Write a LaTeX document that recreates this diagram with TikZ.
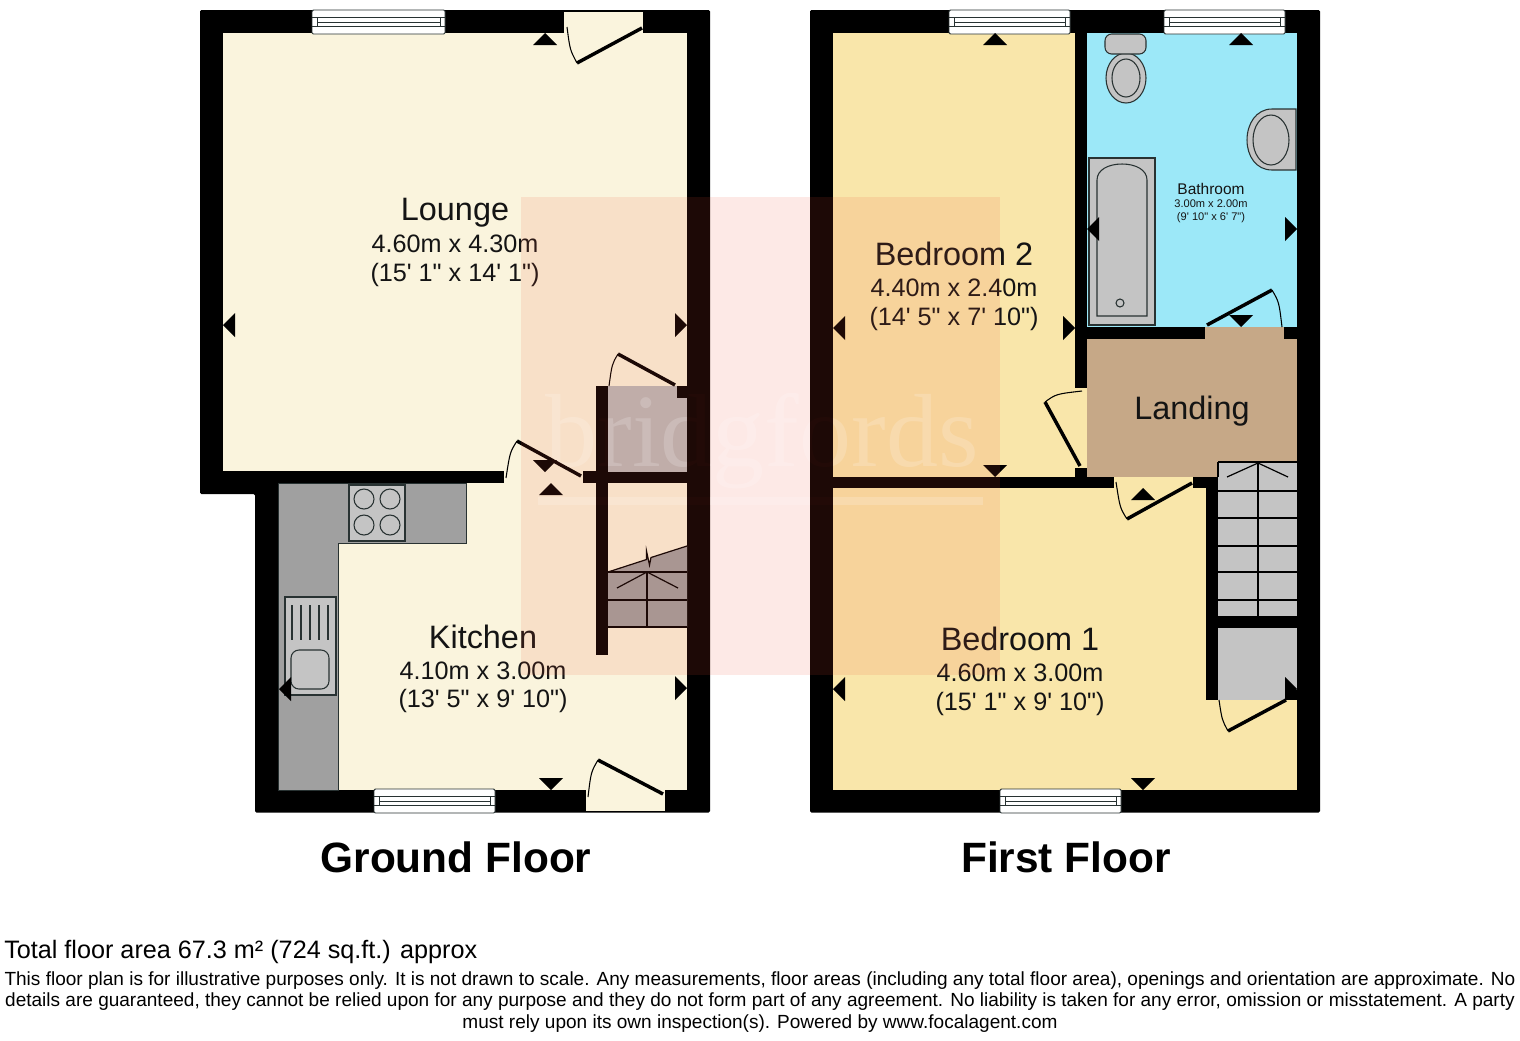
\documentclass[tikz,border=0pt]{standalone}
\usepackage{fontspec}
\newfontfamily\planfont{Liberation Sans}
\newfontfamily\markfont{Liberation Serif}
\definecolor{creamfloor}{RGB}{250,244,221}
\definecolor{yellowfloor}{RGB}{249,230,170}
\definecolor{bathfloor}{RGB}{156,232,248}
\definecolor{landfloor}{RGB}{198,168,135}
\definecolor{worktop}{RGB}{160,160,160}
\definecolor{fitting}{RGB}{196,196,196}
\definecolor{planline}{RGB}{40,50,50}
\definecolor{stampcol}{RGB}{240,80,50}
\tikzset{
  roomname/.style={font=\planfont\fontsize{24.3}{28}\selectfont,anchor=base,text=black!92},
  roomsize/.style={font=\planfont\fontsize{18.9}{22}\selectfont,anchor=base,text=black!92},
  smallname/.style={font=\planfont\fontsize{11.6}{14}\selectfont,anchor=base,text=black!92},
  smallsize/.style={font=\planfont\fontsize{8.3}{10}\selectfont,anchor=base,text=black!92},
  floorname/.style={font=\planfont\bfseries\fontsize{31.8}{36}\selectfont,anchor=base},
  notetext/.style={font=\planfont\fontsize{14.27}{18}\selectfont,anchor=base},
  doorleaf/.style={line width=2.6pt,line cap=butt},
  doorarc/.style={line width=.8pt},
  fixture/.style={draw=planline,line width=.8pt,fill=fitting},
  stairline/.style={draw=black,line width=.9pt},
}
\begin{document}
\begin{tikzpicture}[x=.75pt,y=-.75pt]
\useasboundingbox (0,0) rectangle (1520,1040);
\fill[white] (0,0) rectangle (1520,1040);
% Draw outer walls
\fill[black,rounded corners=1] (200,10) -- (710,10) -- (710,812.5) -- (255,812.5) -- (255,494) -- (200,494) -- cycle;
\fill[black,rounded corners=1] (810,10) rectangle (1320,812.5);
% Draw floors
\fill[creamfloor] (223,33) rectangle (687,471);
\fill[creamfloor] (278,483) rectangle (687,790);
\fill[creamfloor] (504,470) rectangle (583,484);
\fill[yellowfloor] (833,33) rectangle (1075,477);
\fill[yellowfloor] (833,488) rectangle (1297,790);
\fill[yellowfloor] (1114,477) rectangle (1193,489);
\fill[bathfloor] (1087,33) rectangle (1297,327);
\fill[landfloor] (1087,339) rectangle (1297,477);
\fill[yellowfloor] (1074,388) rectangle (1087,468);
% Draw openings
\fill[creamfloor] (564,12) rectangle (643,33);
\fill[creamfloor] (586,789) rectangle (665,811);
\fill[landfloor] (1205,327) rectangle (1284,339);
% Draw kitchen units
\draw[planline,line width=.6pt,fill=worktop] (278,483) -- (466,483) -- (466,543) -- (338,543) -- (338,790) -- (278,790) -- cycle;
\draw[fixture] (349,485) rectangle (405,541);
\foreach \x/\y in {364/499,390/499,364/525,390/525}
  \draw[fixture] (\x,\y) circle (10);
\draw[fixture] (285,597) rectangle (336,695);
\foreach \x in {292,301,310,319,328}
  \draw[planline,line width=1pt] (\x,605) -- (\x,640);
\draw[fixture,rounded corners=6] (291,650) rectangle (329,689);
% Draw ground floor stairs and cupboard
\fill[fitting!95!black] (608,386) rectangle (687,472);
\fill[worktop] (608,572) -- (646.5,559.5) -- (646.5,551) -- (649.5,565) -- (651,557.5) -- (687,546) -- (687,627) -- (608,627) -- cycle;
\draw[stairline] (608,572) -- (646.5,559.5) -- (646.5,551) -- (649.5,565) -- (651,557.5) -- (687,546);
\foreach \y in {572,600,627}
  \draw[stairline] (608,\y) -- (687,\y);
\draw[stairline] (647,572) -- (647,627);
\draw[stairline] (617,588) -- (647,572) -- (678,588);
% Draw first floor stairs and cupboard
\fill[fitting] (1218,462) rectangle (1297,616);
\fill[fitting] (1218,628) rectangle (1297,700);
\foreach \y in {462,491,518,546,572,600}
  \draw[stairline] (1218,\y) -- (1297,\y);
\draw[stairline] (1218,462) -- (1218,477);
\draw[stairline] (1258,462) -- (1258,616);
\draw[stairline] (1227,477) -- (1258,463) -- (1288,477);
% Draw inner walls
\fill[black] (223,471) rectangle (504,483);
\fill[black] (583,472) rectangle (687,483);
\fill[black] (596,386) rectangle (608,655);
\fill[black] (677,386) rectangle (687,398);
\fill[black] (1075,33) rectangle (1087,388);
\fill[black] (1075,468) rectangle (1087,477);
\fill[black] (1076,327) rectangle (1205,339);
\fill[black] (1284,327) rectangle (1297,339);
\fill[black] (833,477) rectangle (1114,488);
\fill[black] (1193,477) rectangle (1218,488);
\fill[black] (1206,488) rectangle (1218,700);
\fill[black] (1218,616) rectangle (1297,628);
\fill[black] (1286,690) rectangle (1297,700);
% Draw bathroom fittings
\draw[fixture] (1126,78) ellipse (20 and 25);
\draw[fixture] (1126,78) ellipse (14 and 19);
\draw[fixture,rounded corners=5] (1105,34) rectangle (1146,54);
\draw[fixture] (1296,109) -- (1272,109) .. controls (1256,109) and (1247,124) .. (1247,140) .. controls (1247,156) and (1256,170) .. (1272,170) -- (1296,170) -- cycle;
\draw[fixture] (1271,140) ellipse (18 and 25);
\draw[fixture] (1089,158) rectangle (1155,325);
\draw[fixture] (1097,316) -- (1097,180) .. controls (1097,170) and (1108,164) .. (1122,164) .. controls (1136,164) and (1147,170) .. (1147,180) -- (1147,316) -- cycle;
\draw[fixture] (1120,303) circle (4);
% Draw windows
\foreach \x/\w/\y in {312/133/10,374/121/789,949/121/10,1164/121/10,1000/121/789}{
  \draw[planline,line width=.7pt,fill=white,rounded corners=1] (\x,\y) rectangle +(\w,24);
  \draw[planline,line width=.7pt] (\x+5,\y+7.5) rectangle (\x+\w-5,\y+16);
  \draw[planline,line width=.7pt] (\x,\y+7.5) -- (\x+\w,\y+7.5) (\x,\y+16) -- (\x+\w,\y+16);
  \draw[planline,line width=.7pt] (\x+5,\y+12) -- (\x+\w-5,\y+12);
}
% Draw doors
\draw[doorleaf] (642,28) -- (577,63);
\draw[doorarc] (577,63) .. controls (570,50) .. (567,27);
\draw[doorleaf] (663,794) -- (598,760);
\draw[doorarc] (598,760) .. controls (591,772) .. (588,797);
\draw[doorleaf] (581,476) -- (517,441);
\draw[doorarc] (517,441) .. controls (510,452) .. (506,478);
\draw[doorleaf] (675,385) -- (618,354);
\draw[doorarc] (618,354) .. controls (612,364) .. (609,386);
\draw[doorleaf] (1207,325) -- (1272,290);
\draw[doorarc] (1272,290) .. controls (1279,302) .. (1282,327);
\draw[doorleaf] (1080,466) -- (1045,402);
\draw[doorarc] (1045,402) .. controls (1056,394) .. (1082,391);
\draw[doorleaf] (1192,483) -- (1127,519);
\draw[doorarc] (1127,519) .. controls (1120,508) .. (1116,482);
\draw[doorleaf] (1286,700) -- (1228,731);
\draw[doorarc] (1228,731) .. controls (1222,720) .. (1219,700);
% Draw left markers
\foreach \x/\y in {223/325,279/689,833/328,833/689,1087/229}
  \fill[black] (\x,\y) -- ++(12,-12) -- ++(0,24) -- cycle;
% Draw right markers
\foreach \x/\y in {687/325,687/688,1075/328,1297/229,1297/689}
  \fill[black] (\x,\y) -- ++(-12,-12) -- ++(0,24) -- cycle;
% Draw top markers
\foreach \x/\y in {545/33,551/483,995/33,1241/33,1143/488}
  \fill[black] (\x,\y) -- ++(-12,12) -- ++(24,0) -- cycle;
% Draw bottom markers
\foreach \x/\y in {545/472,551/790,995/477,1241/327,1143/790}
  \fill[black] (\x,\y) -- ++(-12,-12) -- ++(24,0) -- cycle;
% Draw room labels
\node[roomname] (lounge) at (455,220) {Lounge};
\node[roomsize] (loungem) at (455,252) {4.60m x 4.30m};
\node[roomsize] (loungeft) at (455,281) {(15' 1" x 14' 1")};
\node[roomname] (kitchen) at (483,648) {Kitchen};
\node[roomsize] (kitchenm) at (483,679) {4.10m x 3.00m};
\node[roomsize] (kitchenft) at (483,707) {(13' 5" x 9' 10")};
\node[roomname] (bedtwo) at (954,265) {Bedroom 2};
\node[roomsize] (bedtwom) at (954,296) {4.40m x 2.40m};
\node[roomsize] (bedtwoft) at (954,325) {(14' 5" x 7' 10")};
\node[roomname] (bedone) at (1020,650) {Bedroom 1};
\node[roomsize] (bedonem) at (1020,681) {4.60m x 3.00m};
\node[roomsize] (bedoneft) at (1020,710) {(15' 1" x 9' 10")};
\node[smallname] (bath) at (1211,194) {Bathroom};
\node[smallsize] (bathm) at (1211,207) {3.00m x 2.00m};
\node[smallsize] (bathft) at (1211,220) {(9' 10" x 6' 7")};
\node[roomname] (landing) at (1192,419) {Landing};
\node[floorname] (ground) at (456,872) {Ground Floor};
\node[floorname] (first) at (1066,872) {First Floor};
% Draw notes
\node[notetext,anchor=base west,inner sep=0pt,font=\planfont\fontsize{18.9}{22}\selectfont] (total) at (4,958) {Total floor area 67.3 m² (724 sq.ft.) approx};
\node[notetext] (noteone) at (760,985) {This floor plan is for illustrative purposes only. It is not drawn to scale. Any measurements, floor areas (including any total floor area), openings and orientation are approximate. No};
\node[notetext] (notetwo) at (760,1006) {details are guaranteed, they cannot be relied upon for any purpose and they do not form part of any agreement. No liability is taken for any error, omission or misstatement. A party};
\node[notetext] (notethree) at (760,1028) {must rely upon its own inspection(s). Powered by www.focalagent.com};
% Draw watermark
\fill[stampcol,opacity=.12] (521,197) rectangle (1000,675);
\begin{scope}[blend mode=overlay,opacity=.18]
\node[font=\markfont\fontsize{78}{90}\selectfont,text=white,anchor=base] (stamp) at (762,466) {bridgfords};
\fill[white] (538,497) rectangle (983,505);
\end{scope}
\end{tikzpicture}
\end{document}
